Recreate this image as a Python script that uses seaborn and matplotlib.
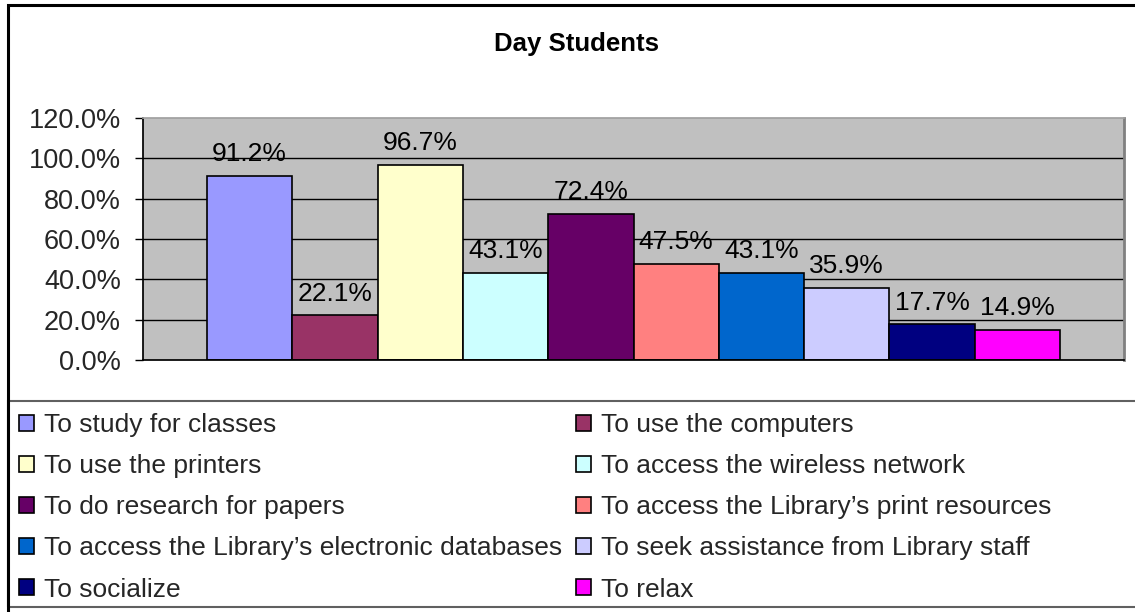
import pandas as pd
import matplotlib.pyplot as plt
import matplotlib.patches as mpatches
from matplotlib.ticker import FuncFormatter
import seaborn as sns

# data
reasons = [
    "To study for classes",
    "To use the computers",
    "To use the printers",
    "To access the wireless network",
    "To do research for papers",
    "To access the Library\u2019s print resources",
    "To access the Library\u2019s electronic databases",
    "To seek assistance from Library staff",
    "To socialize",
    "To relax",
]
percents = [91.2, 22.1, 96.7, 43.1, 72.4, 47.5, 43.1, 35.9, 17.7, 14.9]
colors = ["#9999FF", "#993366", "#FFFFCC", "#CCFFFF", "#660066",
          "#FF8080", "#0066CC", "#CCCCFF", "#000080", "#FF00FF"]
y_ticks = [0, 20, 40, 60, 80, 100, 120]

sns.set_theme(style="white")
plt.rcParams["font.family"] = ["Liberation Sans", "DejaVu Sans"]

df = pd.DataFrame({"reason": pd.Categorical(reasons, categories=reasons),
                   "pct": percents})

W, H = 1135, 612
fig = plt.figure(figsize=(W / 100, H / 100), dpi=100)
fig.patch.set_facecolor("white")
ax = fig.add_axes([143 / W, 1 - 360 / H, 981 / W, 242 / H])

sns.barplot(data=df, x="reason", y="pct", hue="reason", palette=colors,
            width=1.0, edgecolor="black", linewidth=1.2, legend=False,
            saturation=1, ax=ax)

ax.set_facecolor("#C0C0C0")
ax.set_ylim(0, 120)
ax.set_xlim(-1.25, 10.25)
ax.set_yticks(y_ticks)
ax.yaxis.set_major_formatter(FuncFormatter(lambda v, p: f"{v:.1f}%"))
ax.tick_params(axis="y", direction="out", length=6, width=1, color="black",
               labelsize=19.5, pad=10, left=True)
ax.set_xticks([])
ax.set_xlabel("")
ax.set_ylabel("")
for v in y_ticks[1:-1]:
    ax.axhline(v, color="black", linewidth=1, zorder=0.5)
ax.set_axisbelow(True)

ax.spines["left"].set_color("black")
ax.spines["bottom"].set_color("black")
ax.spines["top"].set_color("#A0A0A0")
ax.spines["right"].set_color("#808080")
ax.spines["right"].set_linewidth(2)
for s in ax.spines.values():
    s.set_visible(True)

for cont in ax.containers:
    ax.bar_label(cont, fmt="%.1f%%", fontsize=19, padding=7, color="black")

fig.text(577 / W, 1 - 51 / H, "Day Students", ha="center", va="baseline",
         fontsize=18.5, fontweight="bold", color="black")

# legend, filled row by row as in the reference
handles = [mpatches.Patch(facecolor=c, edgecolor="black", linewidth=1.2)
           for c in colors]
order = list(range(0, 10, 2)) + list(range(1, 10, 2))
fig.legend([handles[i] for i in order], [reasons[i] for i in order],
           ncol=2, loc="upper left",
           bbox_to_anchor=(19 / W, 1 - 413 / H),
           frameon=False, fontsize=19, borderpad=0, borderaxespad=0,
           handlelength=0.57, handleheight=0.57, handletextpad=0.38,
           labelspacing=0.65, columnspacing=0.53)

# legend box and outer chart border
fig.patches.append(mpatches.Rectangle(
    (8 / W, 1 - 607 / H), 1.1, (607 - 401) / H,
    transform=fig.transFigure, fill=False, edgecolor="#606060", linewidth=1.5))
fig.patches.append(mpatches.Rectangle(
    (8 / W, -0.05), 1.1, 1 - 5 / H + 0.05,
    transform=fig.transFigure, fill=False, edgecolor="black", linewidth=2.2))

fig.savefig("out.png", dpi=100)
